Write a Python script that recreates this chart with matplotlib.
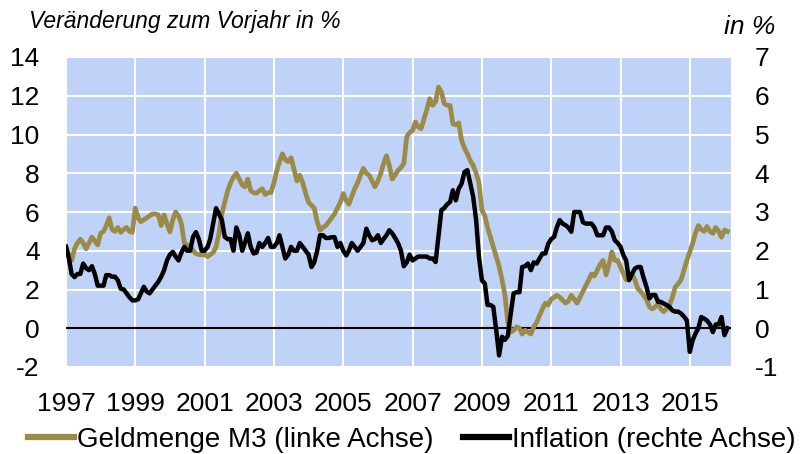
import matplotlib.pyplot as plt
import pandas as pd

plt.rcParams['font.family'] = ['Liberation Sans', 'DejaVu Sans']
plt.rcParams['axes.unicode_minus'] = False

# Geldmenge M3, Veränderung zum Vorjahr in % (linke Achse), monatlich ab Jan 1997
m3 = [4.2, 3.8, 3.5, 4.1, 4.4, 4.6, 4.4, 4.1, 4.4, 4.7, 4.5, 4.3,          # 1997
      4.9, 5.0, 5.3, 5.7, 5.1, 5.0, 5.2, 4.95, 5.1, 5.2, 5.0, 4.95,       # 1998
      6.2, 5.7, 5.5, 5.6, 5.7, 5.8, 5.9, 5.9, 5.85, 5.3, 5.85, 5.4,       # 1999
      4.97, 5.6, 6.0, 5.8, 5.4, 4.4, 4.3, 4.2, 4.0, 3.85, 3.8, 3.8,       # 2000
      3.8, 3.7, 3.8, 3.9, 4.2, 4.9, 5.9, 6.5, 7.1, 7.5, 7.8, 8.0,         # 2001
      7.7, 7.4, 7.3, 7.7, 7.1, 7.0, 6.97, 7.1, 7.2, 6.9, 7.0, 7.0,        # 2002
      7.5, 8.15, 8.6, 9.0, 8.7, 8.6, 8.8, 8.2, 7.6, 7.9, 7.5, 6.97,       # 2003
      6.5, 6.35, 6.2, 5.5, 5.06, 5.2, 5.3, 5.5, 5.7, 5.9, 6.2, 6.5,       # 2004
      6.95, 6.6, 6.4, 6.8, 7.2, 7.5, 7.9, 8.25, 8.0, 7.9, 7.6, 7.3,       # 2005
      7.6, 8.0, 8.5, 8.9, 8.4, 7.7, 7.9, 8.15, 8.3, 8.5, 9.9, 10.1,       # 2006
      10.2, 10.65, 10.4, 10.3, 10.8, 11.3, 11.85, 11.5, 11.7, 12.45, 12.2, 11.6,  # 2007
      11.5, 11.5, 10.55, 10.5, 10.6, 9.7, 9.3, 9.0, 8.65, 8.4, 8.0, 7.5,  # 2008
      6.1, 5.8, 5.2, 4.7, 4.2, 3.7, 3.2, 2.5, 1.7, 0.3, -0.2, -0.1,       # 2009
      0.07, 0.0, -0.3, -0.1, -0.2, -0.3, 0.07, 0.3, 0.67, 1.0, 1.3, 1.2,  # 2010
      1.5, 1.6, 1.7, 1.6, 1.45, 1.3, 1.4, 1.7, 1.5, 1.3, 1.6, 1.9,        # 2011
      2.2, 2.5, 2.8, 2.7, 3.0, 3.3, 3.5, 2.75, 3.3, 3.94, 3.5, 3.5,       # 2012
      3.16, 2.8, 2.5, 2.8, 2.8, 2.5, 2.05, 1.9, 1.7, 1.5, 1.1, 1.0,       # 2013
      1.1, 1.27, 1.0, 0.85, 1.0, 1.2, 1.6, 2.13, 2.3, 2.5, 3.0, 3.5,      # 2014
      3.94, 4.4, 4.9, 5.3, 5.1, 5.0, 5.25, 5.0, 4.9, 5.2, 5.0, 4.7,       # 2015
      5.07, 5.0]                                                          # 2016

# Inflation in % (rechte Achse)
inflation = [2.1, 1.8, 1.4, 1.32, 1.4, 1.4, 1.67, 1.55, 1.5, 1.6, 1.4, 1.1,      # 1997
             1.1, 1.1, 1.37, 1.37, 1.33, 1.33, 1.24, 1.02, 1.0, 0.9, 0.8, 0.72,  # 1998
             0.72, 0.75, 0.9, 1.07, 0.95, 0.9, 1.0, 1.1, 1.2, 1.33, 1.5, 1.75,   # 1999
             1.9, 1.97, 1.85, 1.75, 1.95, 2.1, 2.0, 2.0, 2.36, 2.48, 2.3, 2.0,   # 2000
             2.0, 2.1, 2.3, 2.7, 3.1, 2.95, 2.8, 2.36, 2.3, 2.3, 2.0, 2.6,       # 2001
             2.4, 2.0, 2.2, 2.45, 2.1, 1.93, 1.95, 2.2, 2.1, 2.2, 2.33, 2.1,     # 2002
             2.1, 2.2, 2.4, 2.1, 1.8, 1.9, 2.1, 2.0, 2.0, 2.2, 2.1, 2.0,         # 2003
             1.9, 1.58, 1.7, 2.0, 2.4, 2.4, 2.33, 2.33, 2.35, 2.35, 2.1, 2.2,    # 2004
             2.0, 1.88, 2.0, 2.2, 2.1, 2.0, 2.1, 2.2, 2.57, 2.4, 2.27, 2.3,      # 2005
             2.4, 2.2, 2.3, 2.4, 2.53, 2.45, 2.33, 2.2, 2.0, 1.6, 1.7, 1.9,      # 2006
             1.75, 1.8, 1.85, 1.85, 1.85, 1.85, 1.8, 1.8, 1.71, 2.36, 3.05, 3.1, # 2007
             3.2, 3.26, 3.56, 3.3, 3.6, 3.73, 4.03, 4.08, 3.73, 3.39, 2.79, 1.84,  # 2008
             1.24, 1.15, 0.6, 0.6, 0.55, -0.05, -0.7, -0.22, -0.3, -0.2, 0.38, 0.9,  # 2009
             0.93, 0.93, 1.58, 1.6, 1.67, 1.5, 1.7, 1.67, 1.8, 1.93, 1.93, 2.18,   # 2010
             2.3, 2.36, 2.6, 2.79, 2.7, 2.66, 2.6, 2.49, 3.0, 3.0, 3.0, 2.74,      # 2011
             2.7, 2.7, 2.7, 2.6, 2.4, 2.4, 2.4, 2.6, 2.6, 2.5, 2.27, 2.2,          # 2012
             2.1, 1.88, 1.75, 1.24, 1.4, 1.54, 1.58, 1.58, 1.3, 1.07, 0.77, 0.86,  # 2013
             0.86, 0.68, 0.68, 0.64, 0.6, 0.55, 0.46, 0.43, 0.43, 0.38, 0.3, 0.2,  # 2014
             -0.61, -0.3, -0.14, 0.0, 0.29, 0.25, 0.2, 0.1, -0.1, 0.1, 0.1, 0.29,  # 2015
             -0.18, 0.0]                                                           # 2016

dates = pd.date_range('1997-01-01', periods=len(m3), freq='MS')
tick_years = list(range(1997, 2016, 2))

gold = '#9C8B46'
bg = '#BFD2F7'
fs = 19

fig = plt.figure(figsize=(8.04, 4.54), dpi=100)
ax = fig.add_axes([66 / 804, 1 - 367 / 454, (731 - 66) / 804, (367 - 57) / 454])
ax.set_facecolor(bg)
ax2 = ax.twinx()

ax.axhline(0, color='black', lw=1.5, zorder=2)
l1, = ax.plot(dates, m3, color=gold, lw=3.4, zorder=3, solid_joinstyle='round')
l2, = ax2.plot(dates, inflation, color='black', lw=3.2, zorder=3, solid_joinstyle='round')

ax.set_ylim(-2, 14)
ax2.set_ylim(-1, 7)
ax.set_yticks(range(-2, 15, 2))
ax2.set_yticks(range(-1, 8))
ax.set_xlim(pd.Timestamp('1997-01-01'), pd.Timestamp('2016-03-10'))
ax.set_xticks([pd.Timestamp(f'{y}-01-01') for y in tick_years])
ax.set_xticklabels([str(y) for y in tick_years])

ax.grid(True, color='white', lw=1.5)
ax.set_axisbelow(True)

for a in (ax, ax2):
    for s in a.spines.values():
        s.set_visible(False)
    a.tick_params(length=0, labelsize=fs)
ax.tick_params(axis='y', pad=19)
ax.tick_params(axis='x', pad=18)
ax2.tick_params(axis='y', pad=17)

fig.text(29 / 804, 1 - 28 / 454, 'Veränderung zum Vorjahr in %', fontsize=16.5,
         style='italic', ha='left', va='baseline')
fig.text(775 / 804, 1 - 34 / 454, 'in %', fontsize=fs, style='italic',
         ha='right', va='baseline')

leg = fig.legend([l1, l2], ['Geldmenge M3 (linke Achse)', 'Inflation (rechte Achse)'],
                 loc='center', bbox_to_anchor=(412 / 804, 1 - 440 / 454), ncol=2,
                 frameon=False, fontsize=20, handlelength=1.65, handletextpad=0.12,
                 columnspacing=1.05, borderpad=0, borderaxespad=0)
for h in leg.get_lines():
    h.set_linewidth(4.5)

fig.savefig('out.png', dpi=100)
